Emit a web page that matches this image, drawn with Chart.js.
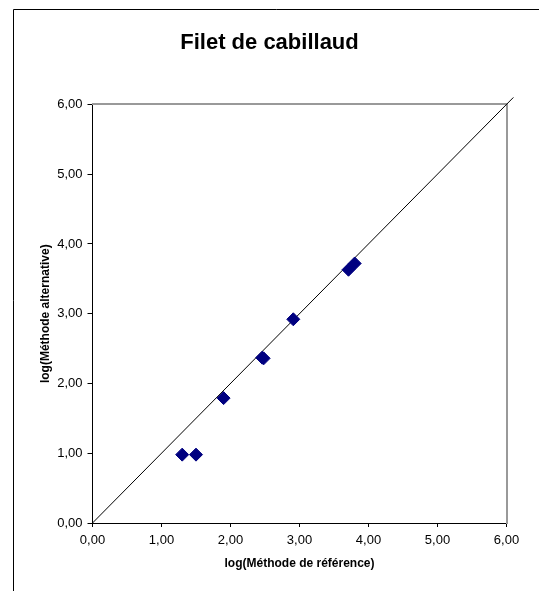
<!DOCTYPE html>
<html>
<head>
<meta charset="utf-8">
<script src="https://cdn.jsdelivr.net/npm/chart.js@4"></script>
<style>
    html, body { margin: 0; padding: 0; background: #fff; }
    #wrap { width: 539px; height: 591px; position: relative; }
</style>
</head>
<body>
<div id="wrap"><canvas id="myScatterChart"></canvas></div>
<script>
// values
const refValues = [1.30, 1.50, 1.90, 2.46, 2.48, 2.91, 3.71, 3.80];
const altValues = [0.98, 0.98, 1.79, 2.37, 2.36, 2.92, 3.63, 3.72];
const lineX = [0, 6.1];
const lineY = [0, 6.1];
const tickValues = [0, 1, 2, 3, 4, 5, 6];

const fontName = '"Liberation Sans", Arial, sans-serif';
const fmt = v => v.toFixed(2).replace('.', ',');

// outer frame (left and top edges only)
const framePlugin = {
    id: 'frame',
    beforeDraw(chart) {
        const ctx = chart.ctx;
        ctx.save();
        ctx.fillStyle = '#fff';
        ctx.fillRect(0, 0, chart.width, chart.height);
        ctx.strokeStyle = '#000';
        ctx.lineWidth = 1;
        ctx.beginPath();
        ctx.moveTo(13.5, chart.height);
        ctx.lineTo(13.5, 9.5);
        ctx.lineTo(chart.width, 9.5);
        ctx.stroke();
        ctx.restore();
    }
};

const points = refValues.map((x, i) => ({ x: x, y: altValues[i] }));
const diag = lineX.map((x, i) => ({ x: x, y: lineY[i] }));

const config = {
    type: 'scatter',
    data: {
        datasets: [{
            label: 'diag',
            data: diag,
            showLine: true,
            borderColor: '#000',
            borderWidth: 1,
            pointRadius: 0,
            clip: false,
            order: 2
        }, {
            label: 'Filet de cabillaud',
            data: points,
            pointStyle: 'rectRot',
            pointRadius: 6.5,
            backgroundColor: '#000080',
            borderColor: '#000080',
            borderWidth: 1,
            order: 1
        }]
    },
    options: {
        responsive: false,
        animation: false,
        layout: { padding: 0 },
        plugins: {
            legend: { display: false },
            tooltip: { enabled: false },
            title: {
                display: true,
                text: 'Filet de cabillaud',
                color: '#000',
                font: { family: fontName, size: 22, weight: 'bold', lineHeight: 1.2 },
                padding: { top: 30, bottom: 48 }
            }
        },
        scales: {
            x: {
                type: 'linear',
                min: 0,
                max: 6,
                afterBuildTicks: s => { s.ticks = tickValues.map(v => ({ value: v })); },
                afterFit: s => { s.height = 68; },
                grid: { drawOnChartArea: false, tickLength: 4, tickColor: '#000' },
                border: { color: '#000', width: 1 },
                ticks: {
                    color: '#000',
                    padding: 6,
                    maxRotation: 0,
                    font: { family: fontName, size: 13 },
                    callback: v => fmt(v)
                },
                title: {
                    display: true,
                    text: 'log(Méthode de référence)',
                    color: '#000',
                    font: { family: fontName, size: 12, weight: 'bold', lineHeight: 1.2 },
                    padding: { top: 0, bottom: 20 }
                }
            },
            y: {
                type: 'linear',
                min: 0,
                max: 6,
                afterBuildTicks: s => { s.ticks = tickValues.map(v => ({ value: v })); },
                afterFit: s => { s.width = 92.5; },
                grid: { drawOnChartArea: false, tickLength: 5, tickColor: '#000' },
                border: { color: '#000', width: 1 },
                ticks: {
                    color: '#000',
                    padding: 5,
                    font: { family: fontName, size: 13 },
                    callback: v => fmt(v)
                },
                title: {
                    display: true,
                    text: 'log(Méthode alternative)',
                    color: '#000',
                    font: { family: fontName, size: 12, weight: 'bold', lineHeight: 1.2 },
                    padding: { top: 38, bottom: 0 }
                }
            },
            y2: {
                type: 'linear',
                position: 'right',
                min: 0,
                max: 6,
                afterFit: s => { s.width = 32.5; },
                grid: { display: false },
                border: { color: '#999', width: 2 },
                ticks: { display: false }
            },
            x2: {
                type: 'linear',
                position: 'top',
                min: 0,
                max: 6,
                afterFit: s => { s.height = 0; },
                grid: { display: false },
                border: { color: '#999', width: 2 },
                ticks: { display: false }
            }
        }
    },
    plugins: [framePlugin]
};

const canvas = document.querySelector('#myScatterChart');
canvas.width = 539;
canvas.height = 591;
const scatterChart = new Chart(canvas, config);
</script>
</body>
</html>
